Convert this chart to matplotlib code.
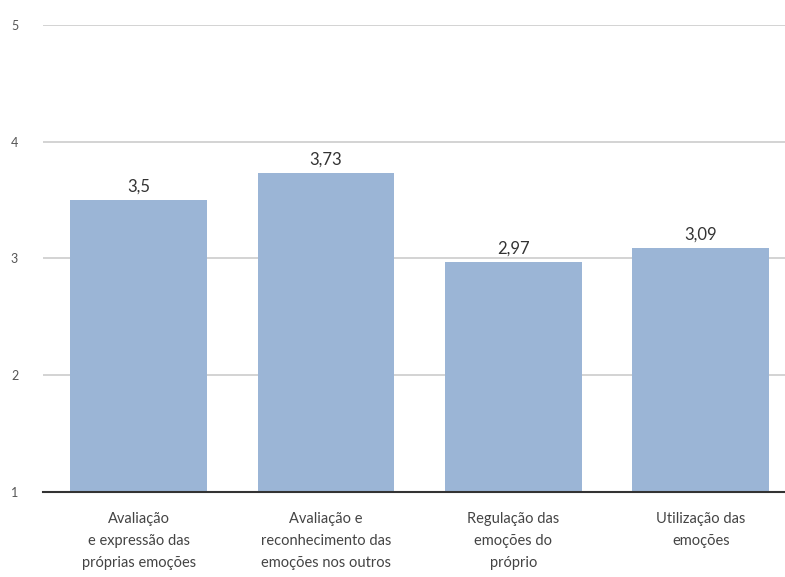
import matplotlib
matplotlib.use("Agg")
import matplotlib.pyplot as plt

categories = ["Avaliação\ne expressão das\npróprias emoções",
              "Avaliação e\nreconhecimento das\nemoções nos outros",
              "Regulação das\nemoções do\npróprio",
              "Utilização das\nemoções"]
values = [3.5, 3.73, 2.97, 3.09]
value_labels = ["3,5", "3,73", "2,97", "3,09"]
yticks = [1, 2, 3, 4, 5]

plt.rcParams['font.family'] = ['Lato', 'DejaVu Sans']

fig = plt.figure(figsize=(7.85, 5.77), dpi=100)
ax = fig.add_axes([0.055, 0.147, 0.945, 0.81])

x = list(range(len(categories)))
bars = ax.bar(x, [v - 1 for v in values], bottom=1, width=0.73, color="#9bb5d6", zorder=2)
for xi, v, lab in zip(x, values, value_labels):
    ax.text(xi, v + 0.05, lab, ha="center", va="bottom", fontsize=12, color="#333333")

ax.set_ylim(1, 5)
ax.set_xlim(-0.51, 3.45)
ax.set_yticks(yticks)
ax.set_yticklabels([str(t) for t in yticks], fontsize=9, color="#555555")
ax.yaxis.grid(True, color="#cccccc", linewidth=1.2, zorder=0)
ax.tick_params(axis="y", length=0, pad=18)
ax.set_xticks(x)
ax.set_xticklabels(categories, fontsize=10.5, color="#444444", linespacing=1.75)
ax.tick_params(axis="x", length=0, pad=14)
for s in ["top", "right", "left"]:
    ax.spines[s].set_visible(False)
ax.spines["bottom"].set_color("#333333")
ax.spines["bottom"].set_linewidth(1.5)
ax.spines["bottom"].set_zorder(3)

fig.savefig("out.png", dpi=100)
